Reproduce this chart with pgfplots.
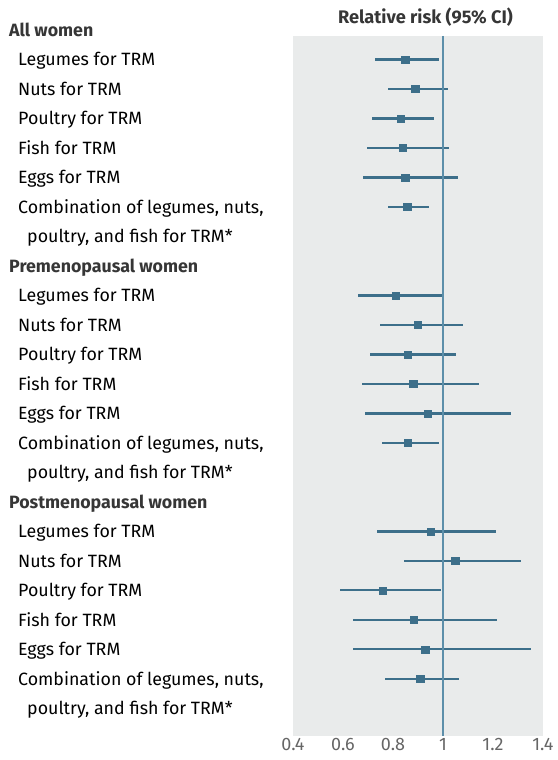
\documentclass[border=0pt]{standalone}
\usepackage{pgfplots}
\pgfplotsset{compat=1.18}
\usepackage{pgfplotstable}
\usepackage{fontspec}
\setmainfont{Fira Sans}
\definecolor{bgc}{HTML}{E9EBEB}
\definecolor{ci}{HTML}{3D6F8A}
\definecolor{refl}{HTML}{5D8FAA}
\definecolor{txt}{HTML}{474747}
\definecolor{hdr}{HTML}{363636}
\definecolor{tick}{HTML}{666666}

% row = position from top (0 = first group header)
\pgfplotstableread{
row rr lo hi
1  0.849 0.728 0.983
2  0.889 0.779 1.021
3  0.832 0.717 0.964
4  0.839 0.697 1.023
5  0.849 0.679 1.061
6  0.857 0.779 0.945
9  0.811 0.660 0.997
10 0.900 0.748 1.081
11 0.860 0.708 1.052
12 0.881 0.677 1.143
13 0.939 0.688 1.272
14 0.860 0.756 0.983
17 0.951 0.736 1.212
18 1.049 0.845 1.312
19 0.760 0.587 0.993
20 0.883 0.640 1.216
21 0.929 0.640 1.351
22 0.909 0.768 1.063
}\data

\begin{document}
\begin{tikzpicture}
\path[use as bounding box] (0,0) rectangle (557pt,760pt);
\begin{axis}[
  at={(293pt,24pt)}, anchor=south west,
  width=250pt, height=700pt, scale only axis,
  xmin=0.4, xmax=1.4, ymin=0.2, ymax=23.94,
  y dir=reverse,
  axis background/.style={fill=bgc},
  axis line style={draw=none},
  ytick=\empty,
  xtick={0.4,0.6,0.8,1,1.2,1.4},
  major tick length=0pt,
  /pgf/number format/assume math mode=true,
  xticklabel style={font=\fontsize{18}{18}\selectfont, text=tick, inner sep=1pt, yshift=-1pt},
  clip=false,
  every node/.append style={text=txt},
]
\addplot[draw=none, mark=none, forget plot,
  error bars/.cd, x dir=both, x explicit, error mark=none,
  error bar style={line width=2.3pt, color=ci}]
  table[x=rr, y=row,
        x error plus expr=\thisrow{hi}-\thisrow{rr},
        x error minus expr=\thisrow{rr}-\thisrow{lo}]{\data};
\addplot[refl, line width=2pt] coordinates {(1,0.2) (1,23.94)};
\addplot[only marks, mark=square*, mark size=3.6pt, color=ci] table[x=rr, y=row]{\data};

% title
\node[anchor=base, font=\fontsize{18.2}{18.2}\selectfont\bfseries, text=hdr, yshift=12.7pt] at (axis description cs:0.53,1) {Relative risk (95\% CI)};

% labels
\tikzset{lab/.style={anchor=base west, inner sep=0pt, yshift=-6.3pt, font=\fontsize{17.8}{17.8}\selectfont},
         hd/.style={lab, xshift=-284pt, text=hdr, font=\fontsize{17.8}{17.8}\selectfont\bfseries}}
\node[hd] at (axis cs:0.4,0) {All women};
\node[lab, xshift=-275pt] at (axis cs:0.4,1) {Legumes for TRM};
\node[lab, xshift=-275pt] at (axis cs:0.4,2) {Nuts for TRM};
\node[lab, xshift=-275pt] at (axis cs:0.4,3) {Poultry for TRM};
\node[lab, xshift=-275pt] at (axis cs:0.4,4) {Fish for TRM};
\node[lab, xshift=-275pt] at (axis cs:0.4,5) {Eggs for TRM};
\node[lab, xshift=-275pt] at (axis cs:0.4,6) {Combination of legumes, nuts,};
\node[lab, xshift=-266pt] at (axis cs:0.4,7) {poultry, and fish for TRM*};
\node[hd] at (axis cs:0.4,8) {Premenopausal women};
\node[lab, xshift=-275pt] at (axis cs:0.4,9) {Legumes for TRM};
\node[lab, xshift=-275pt] at (axis cs:0.4,10) {Nuts for TRM};
\node[lab, xshift=-275pt] at (axis cs:0.4,11) {Poultry for TRM};
\node[lab, xshift=-275pt] at (axis cs:0.4,12) {Fish for TRM};
\node[lab, xshift=-275pt] at (axis cs:0.4,13) {Eggs for TRM};
\node[lab, xshift=-275pt] at (axis cs:0.4,14) {Combination of legumes, nuts,};
\node[lab, xshift=-266pt] at (axis cs:0.4,15) {poultry, and fish for TRM*};
\node[hd] at (axis cs:0.4,16) {Postmenopausal women};
\node[lab, xshift=-275pt] at (axis cs:0.4,17) {Legumes for TRM};
\node[lab, xshift=-275pt] at (axis cs:0.4,18) {Nuts for TRM};
\node[lab, xshift=-275pt] at (axis cs:0.4,19) {Poultry for TRM};
\node[lab, xshift=-275pt] at (axis cs:0.4,20) {Fish for TRM};
\node[lab, xshift=-275pt] at (axis cs:0.4,21) {Eggs for TRM};
\node[lab, xshift=-275pt] at (axis cs:0.4,22) {Combination of legumes, nuts,};
\node[lab, xshift=-266pt] at (axis cs:0.4,23) {poultry, and fish for TRM*};
\end{axis}
\end{tikzpicture}
\end{document}
